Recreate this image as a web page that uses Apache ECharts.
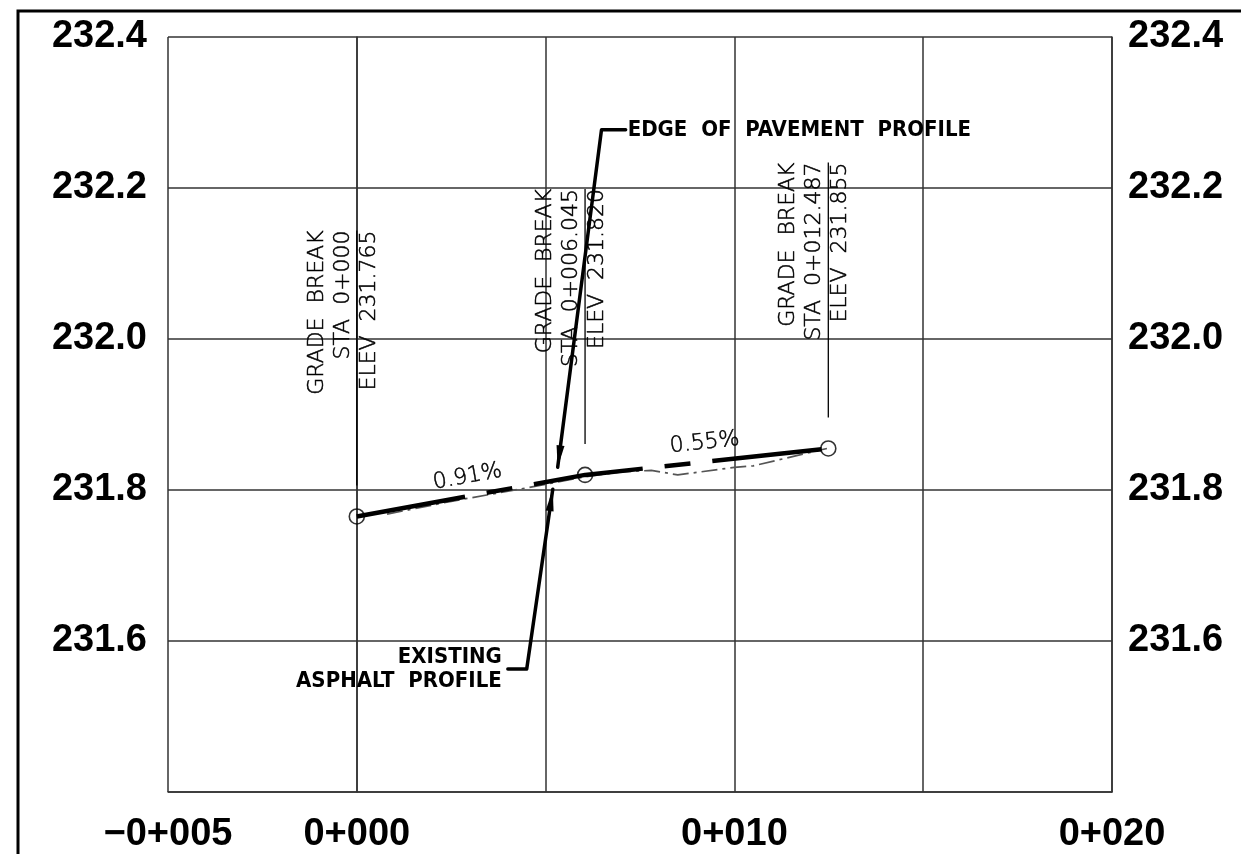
<!DOCTYPE html>
<html><head><meta charset="utf-8">
<script src="https://cdn.jsdelivr.net/npm/echarts@6/dist/echarts.min.js"></script>
<style>html,body{margin:0;padding:0;background:#fff}#c{width:1241px;height:854px}</style>
</head><body><div id="c"></div>
<script>
// ---- data ----
const stations = [0, 6.045, 12.487];
const designElev = [231.765, 231.820, 231.855];
const grades = ['0.91%', '0.55%'];
const existingSta = [0.8, 2.5, 4.3, 6.0, 7.0, 7.8, 8.5, 10.0, 10.5, 12.45];
const existingElev = [231.768, 231.785, 231.801, 231.817, 231.824, 231.826, 231.820, 231.830, 231.832, 231.855];
const xTicks = [-5, 0, 5, 10, 15, 20];
const xTickLabels = ['\u22120+005', '0+000', '', '0+010', '', '0+020'];
const yTicks = [231.4, 231.6, 231.8, 232.0, 232.2, 232.4];
const yTickLabels = ['', '231.6', '231.8', '232.0', '232.2', '232.4'];
const eopLabel = 'EDGE  OF  PAVEMENT  PROFILE';
const eopLeader = [[7.12, 232.277], [6.48, 232.277], [5.32, 231.830]];
const asphLabel = ['EXISTING', 'ASPHALT  PROFILE'];
const asphLeader = [[4.0, 231.563], [4.5, 231.563], [5.19, 231.801]];

function lookup(ticks, labels, v) {
  const i = ticks.findIndex(t => Math.abs(t - v) < 1e-6);
  return i >= 0 ? labels[i] : '';
}
function fmtSta(s) {
  const whole = Math.floor(s + 1e-9);
  let str = '0+' + String(whole).padStart(3, '0');
  if (Math.abs(s - whole) > 1e-9) str += '.' + s.toFixed(3).split('.')[1];
  return str;
}

const chart = echarts.init(document.getElementById('c'), null, {renderer: 'canvas'});
const gridColor = '#333';
const boldFont = '"Liberation Sans", Arial, sans-serif';
const calloutFont = 'bold 22px "Liberation Sans Narrow", "DejaVu Sans Condensed", sans-serif';
const option = {
  animation: false,
  backgroundColor: '#fff',
  grid: {left: 168, right: 129, top: 37, bottom: 60, containLabel: false},
  xAxis: {
    type: 'value', min: -5, max: 20, interval: 5,
    axisLine: {show: true, lineStyle: {color: gridColor, width: 1.5}},
    axisTick: {show: false},
    splitLine: {show: true, lineStyle: {color: gridColor, width: 1.5}},
    axisLabel: {margin: 24, color: '#000', fontFamily: boldFont, fontWeight: 'bold', fontSize: 38,
      formatter: v => lookup(xTicks, xTickLabels, v)}
  },
  yAxis: [{
    type: 'value', min: 231.4, max: 232.4, interval: 0.2, position: 'left',
    axisLine: {show: true, lineStyle: {color: gridColor, width: 1.5}},
    axisTick: {show: false},
    splitLine: {show: true, lineStyle: {color: gridColor, width: 1.5}},
    axisLabel: {margin: 21, color: '#000', fontFamily: boldFont, fontWeight: 'bold', fontSize: 38,
      formatter: v => lookup(yTicks, yTickLabels, v)}
  }, {
    type: 'value', min: 231.4, max: 232.4, interval: 0.2, position: 'right',
    axisLine: {show: true, lineStyle: {color: gridColor, width: 1.5}},
    axisTick: {show: false},
    splitLine: {show: false},
    axisLabel: {margin: 16, color: '#000', fontFamily: boldFont, fontWeight: 'bold', fontSize: 38,
      formatter: v => lookup(yTicks, yTickLabels, v)}
  }],
  series: [
    {
      name: 'Existing asphalt', type: 'line', z: 2, symbol: 'none',
      data: existingSta.map((s, i) => [s, existingElev[i]]),
      lineStyle: {color: '#555', width: 1.7, type: [16, 5, 3, 5]}
    },
    {
      name: 'Edge of pavement', type: 'line', z: 3, symbol: 'none',
      data: stations.map((s, i) => [s, designElev[i]]),
      lineStyle: {color: '#000', width: 4.5, type: [110, 22, 26, 22], cap: 'butt'}
    },
    {
      name: 'Grade breaks', type: 'scatter', z: 4, symbol: 'circle', symbolSize: 15,
      data: stations.map((s, i) => [s, designElev[i]]),
      itemStyle: {color: 'rgba(0,0,0,0)', borderColor: '#000', borderWidth: 1.6}
    }
  ]
};
chart.setOption(option);

function P(x, y) { return chart.convertToPixel({xAxisIndex: 0, yAxisIndex: 0}, [x, y]); }
function arrowHead(a, b, L, W) {
  const dx = b[0] - a[0], dy = b[1] - a[1];
  const len = Math.hypot(dx, dy), ux = dx / len, uy = dy / len;
  const bx = b[0] - ux * L, by = b[1] - uy * L;
  return [[b[0], b[1]], [bx - uy * W / 2, by + ux * W / 2], [bx + uy * W / 2, by - ux * W / 2]];
}

const g = [];
// outer frame
g.push({type: 'polyline', z: 10, shape: {points: [[18, 900], [18, 11], [1300, 11]]},
  style: {stroke: '#000', lineWidth: 3, fill: null}});

// grade break notes
const cols = [-40, -14, 12];
const thinFont = '300 22px "DejaVu Sans", sans-serif';
stations.forEach((s, i) => {
  const [px, py] = P(s, designElev[i]);
  const top = py - 286;
  const lines = ['GRADE  BREAK', 'STA  ' + fmtSta(s), 'ELEV  ' + designElev[i].toFixed(3)];
  lines.forEach((t, j) => {
    g.push({type: 'text', z: 10, x: px + cols[j], y: top, rotation: Math.PI / 2,
      style: {text: t, fill: '#000', stroke: '#000', lineWidth: 0.5, font: thinFont, align: 'right', verticalAlign: 'middle'}});
  });
  g.push({type: 'line', z: 10, shape: {x1: px, y1: top, x2: px, y2: py - 31},
    style: {stroke: '#000', lineWidth: 1.3}});
});

// grade labels
for (let i = 0; i < grades.length; i++) {
  const a = P(stations[i], designElev[i]), b = P(stations[i + 1], designElev[i + 1]);
  const ang = Math.atan2(b[1] - a[1], b[0] - a[0]);
  const mx = (a[0] + b[0]) / 2, my = (a[1] + b[1]) / 2;
  const off = 19;
  g.push({type: 'text', z: 10, x: mx + Math.sin(ang) * off, y: my - Math.cos(ang) * off, rotation: -ang,
    style: {text: grades[i], fill: '#000', stroke: '#000', lineWidth: 0.5, font: '300 22px "DejaVu Sans", sans-serif', align: 'center', verticalAlign: 'middle'}});
}

// leaders
function leader(pts) {
  const px = pts.map(p => P(p[0], p[1]));
  g.push({type: 'polyline', z: 10, shape: {points: px},
    style: {stroke: '#000', lineWidth: 3.5, fill: null, lineJoin: 'round', lineCap: 'round'}});
  g.push({type: 'polygon', z: 10, shape: {points: arrowHead(px[px.length - 2], px[px.length - 1], 22, 8)},
    style: {fill: '#000'}});
  return px;
}
const l1 = leader(eopLeader);
g.push({type: 'text', z: 10, x: l1[0][0] + 2, y: l1[0][1],
  style: {text: eopLabel, fill: '#000', font: calloutFont, align: 'left', verticalAlign: 'middle'}});
const l2 = leader(asphLeader);
g.push({type: 'text', z: 10, x: l2[0][0] - 6, y: l2[0][1] - 12,
  style: {text: asphLabel[0], fill: '#000', font: calloutFont, align: 'right', verticalAlign: 'middle'}});
g.push({type: 'text', z: 10, x: l2[0][0] - 6, y: l2[0][1] + 12,
  style: {text: asphLabel[1], fill: '#000', font: calloutFont, align: 'right', verticalAlign: 'middle'}});

chart.setOption({graphic: {elements: g}});
</script></body></html>
